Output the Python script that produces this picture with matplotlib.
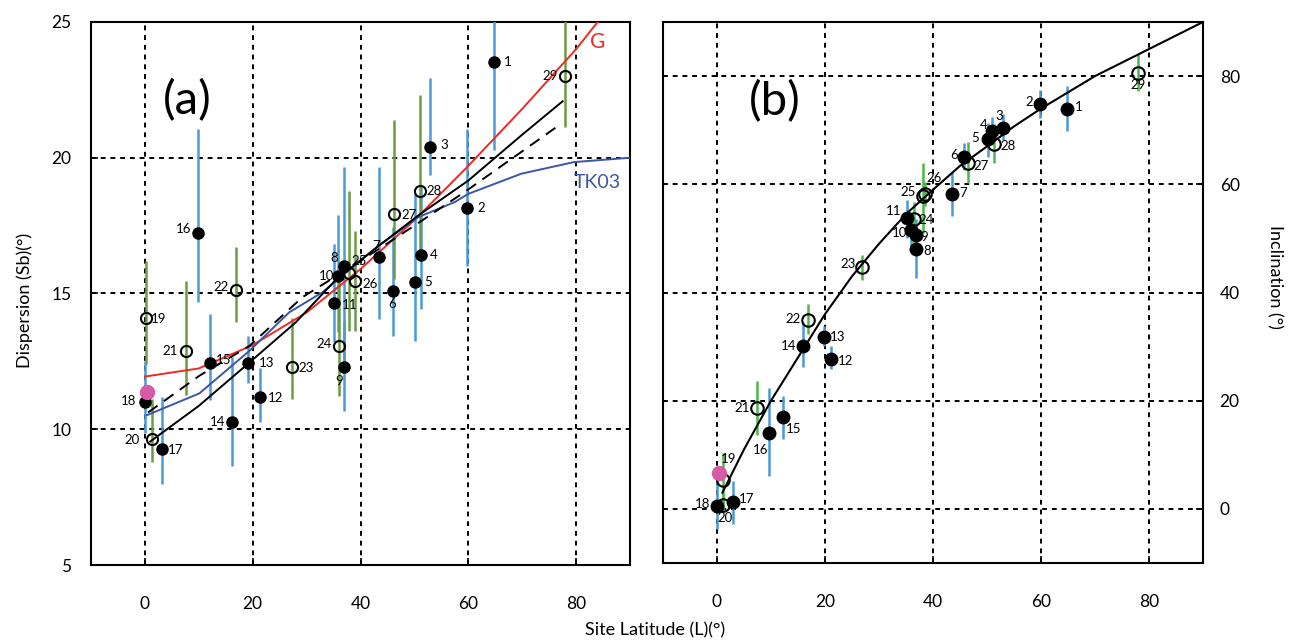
import numpy as np
import matplotlib
matplotlib.use("Agg")
import matplotlib.pyplot as plt

plt.rcParams['font.family'] = ['Lato', 'DejaVu Sans']

# ---- site numbers, 1-18 filled (blue bars), 19-29 open (green bars)
site_id = list(range(1, 30))
n_filled = 18

# panel (a): latitude, dispersion Sb, lower / upper bound
lat_a = [64.8, 59.8, 52.95, 51.2, 50.1, 46.1, 43.4, 36.9, 36.9, 35.85, 35.05, 21.4, 19.1, 16.2,
         12.0, 9.84, 3.08, 0.0, 0.18, 1.23, 7.56, 16.9, 27.2, 36.0, 37.8, 38.9, 46.3, 51.05, 77.9]
sb = [23.53, 18.14, 20.39, 16.42, 15.44, 15.10, 16.34, 16.03, 12.31, 15.63, 14.65, 11.17, 12.44, 10.25,
      12.44, 17.23, 9.26, 11.01, 14.08, 9.63, 12.89, 15.14, 12.31, 13.05, 15.76, 15.47, 17.92, 18.79, 23.01]
sb_lo = [20.27, 16.03, 19.35, 14.43, 13.26, 13.44, 14.06, 12.40, 10.67, 13.58, 13.21, 10.27, 11.70, 8.65,
         11.08, 14.68, 7.97, 9.85, 12.40, 8.79, 11.25, 13.94, 11.11, 11.23, 13.63, 13.63, 15.54, 16.39, 21.13]
sb_hi = [26.8, 21.07, 22.92, 18.98, 18.67, 17.44, 19.66, 19.66, 13.99, 17.90, 16.83, 12.24, 13.44, 12.65,
         14.24, 21.07, 11.17, 12.52, 16.21, 11.11, 15.47, 16.70, 14.08, 15.72, 18.79, 17.32, 21.38, 22.30, 26.5]
magenta_a = (0.3, 11.39)

# model curves, panel (a)
g_lat = [0, 10, 20, 30, 40, 50, 60, 70, 80, 84]
g_sb = [11.94, 12.24, 13.1, 14.3, 15.9, 17.7, 19.7, 21.8, 24.0, 25.0]
fit_lat = [1, 10, 19.4, 28, 35.4, 43, 50.7, 60, 70, 77.5]
fit_sb = [9.55, 10.86, 12.46, 13.94, 15.5, 16.7, 17.87, 19.16, 20.85, 22.08]
fit2_lat = [0.6, 10.1, 19.4, 29.2, 40, 50, 59.7, 77.2]
fit2_sb = [10.62, 11.97, 13.07, 14.86, 16.2, 17.5, 18.79, 21.25]
tk_lat = [0.4, 10.1, 19.4, 26.8, 32.9, 43.4, 50.7, 57.5, 60, 69.8, 79.6, 90]
tk_sb = [10.52, 11.32, 12.89, 14.31, 15.04, 16.76, 17.81, 18.37, 18.67, 19.41, 19.84, 20.0]

# panel (b): latitude, inclination, lower / upper bound
lat_b = [64.9, 59.9, 52.9, 50.9, 50.1, 45.7, 43.6, 36.85, 36.85, 35.9, 35.1, 21.2, 19.8, 16.0,
         12.2, 9.7, 2.9, 0.0, 1.05, 1.05, 7.35, 16.9, 26.9, 36.5, 38.2, 38.6, 46.5, 51.3, 78.0]
inc = [74.0, 74.8, 70.4, 69.9, 68.3, 65.1, 58.2, 48.1, 50.7, 51.6, 53.8, 27.8, 31.8, 30.2,
       17.0, 14.1, 1.2, 0.5, 5.4, 0.7, 18.6, 34.9, 44.7, 53.5, 57.75, 58.2, 64.0, 67.5, 80.6]
inc_lo = [69.9, 72.2, 68.2, 67.6, 65.0, 62.7, 54.2, 42.7, 47.4, 48.5, 50.1, 25.8, 30.1, 26.3,
          13.0, 6.1, -2.8, -3.8, 1.0, -0.6, 13.6, 32.3, 42.3, 48.6, 51.0, 56.0, 60.3, 64.0, 77.3]
inc_hi = [78.2, 77.5, 73.0, 72.4, 71.3, 67.6, 62.2, 51.0, 53.5, 54.1, 57.1, 30.1, 33.8, 34.5,
          20.9, 22.4, 5.2, 5.5, 10.3, 3.0, 23.6, 37.8, 47.0, 56.8, 64.0, 60.5, 67.9, 71.2, 84.1]
magenta_b = (0.43, 6.6)

# GAD inclination curve, panel (b)
gad_lat = [1, 5, 10, 15, 20, 25, 30, 35, 40, 45, 50, 55, 60, 65, 70, 75, 80, 85, 90]
gad_inc = [3.0, 11, 20, 28, 36, 43, 49, 54.5, 59, 63.4, 67, 70.7, 74, 77, 80, 82.5, 85, 87.5, 90]

# label offsets (pixels, right / up)
off_a = [(14, 0), (14, 0), (14, 2), (13, 0), (13, 0), (-1, -13), (-3, 11), (-10, 8), (-5, -14), (-12, 0),
         (16, -2), (15, -1), (19, 0), (-15, 0), (14, 3), (-14, 4), (14, -1), (-16, 1), (13, -1), (-19, -1),
         (-16, 0), (-15, 3), (15, -1), (-15, 2), (10, 12), (16, -3), (15, -1), (14, 0), (-15, 0)]
off_b = [(11, 2), (-11, 2), (-3, 12), (-8, 6), (-12, 1), (-10, 2), (11, 1), (11, -2), (8, -2), (-11, -3),
         (-13, 7), (14, -2), (14, 0), (-15, 0), (11, -12), (-9, -17), (14, 3), (-14, 2), (6, 21), (2, -13),
         (-15, 0), (-15, 1), (-14, 3), (12, -1), (-15, 4), (9, 16), (13, -3), (14, -2), (0, -12)]

blue_bar = '#4a9ad6'
green_a = '#6c9c42'
green_b = '#4cb848'
pink = '#d65aa6'

fig = plt.figure(figsize=(12.89, 6.42), dpi=100)
ax1 = fig.add_axes([91 / 1289, 1 - 565 / 642, 539 / 1289, 543 / 642])
ax2 = fig.add_axes([663 / 1289, 1 - 563 / 642, 540 / 1289, 541 / 642])


def draw_points(ax, lat, val, lo, hi, offs, green, msize):
    for i in range(len(lat)):
        col = blue_bar if i < n_filled else green
        ax.plot([lat[i], lat[i]], [lo[i], hi[i]], color=col, lw=1.8, zorder=3, solid_capstyle='butt')
    for i in range(len(lat)):
        if i < n_filled:
            ax.plot(lat[i], val[i], 'o', ms=msize, mfc='black', mec='black', zorder=5)
        else:
            ax.plot(lat[i], val[i], 'o', ms=msize, mfc='none', mec='black', mew=1.5, zorder=5)
        ax.annotate(str(site_id[i]), (lat[i], val[i]), xytext=offs[i], textcoords='offset pixels',
                    ha='center', va='center', fontsize=9.5, zorder=6)


def style_axes(ax, yticks):
    ax.set_xlim(-10, 90)
    ax.set_xticks([0, 20, 40, 60, 80])
    ax.set_yticks(yticks)
    ax.grid(True, color='black', linestyle=(0, (2.5, 2.5)), lw=1.4)
    ax.tick_params(direction='in', length=5, width=1.2, labelsize=12.5)
    ax.tick_params(axis='x', pad=22)
    for s in ax.spines.values():
        s.set_linewidth(1.5)
    ax.set_axisbelow(True)


# ---- panel (a)
style_axes(ax1, [5, 10, 15, 20, 25])
ax1.set_ylim(5, 25)
ax1.tick_params(axis='y', pad=14)
ax1.plot(g_lat, g_sb, color='#ee2a24', lw=1.4, zorder=4)
ax1.plot(tk_lat, tk_sb, color='#3b56a6', lw=1.4, zorder=4)
ax1.plot(fit_lat, fit_sb, color='black', lw=1.4, zorder=4)
ax1.plot(fit2_lat, fit2_sb, color='black', lw=1.4, ls=(0, (6, 4)), zorder=4)
draw_points(ax1, lat_a, sb, sb_lo, sb_hi, off_a, green_a, 8)
ax1.plot(*magenta_a, 'o', ms=10, color=pink, zorder=6)
ax1.text(84, 24.25, 'G', color='#ee2a24', fontsize=15, ha='center', va='center')
ax1.text(79.5, 19.1, 'TK03', color='#3b56a6', fontsize=14, ha='left', va='center')
ax1.text(7.9, 22.1, '(a)', fontsize=34, ha='center', va='center')

# ---- panel (b)
style_axes(ax2, [0, 20, 40, 60, 80])
ax2.set_ylim(-10, 90)
ax2.yaxis.tick_right()
ax2.tick_params(axis='y', pad=12)
ax2.plot(gad_lat, gad_inc, color='black', lw=1.5, zorder=4)
draw_points(ax2, lat_b, inc, inc_lo, inc_hi, off_b, green_b, 9)
ax2.plot(*magenta_b, 'o', ms=10, color=pink, zorder=6)
ax2.text(10.7, 75.2, '(b)', fontsize=34, ha='center', va='center')

fig.text(25 / 1289, 1 - 300 / 642, 'Dispersion (Sb)(°)', rotation=90, ha='center', va='center', fontsize=13)
fig.text(1275 / 1289, 1 - 277 / 642, 'Inclination (°)', rotation=270, ha='center', va='center', fontsize=13)
fig.text(655 / 1289, 1 - 630 / 642, 'Site Latitude (L)(°)', ha='center', va='center', fontsize=13)

fig.savefig('out.png', dpi=100)
